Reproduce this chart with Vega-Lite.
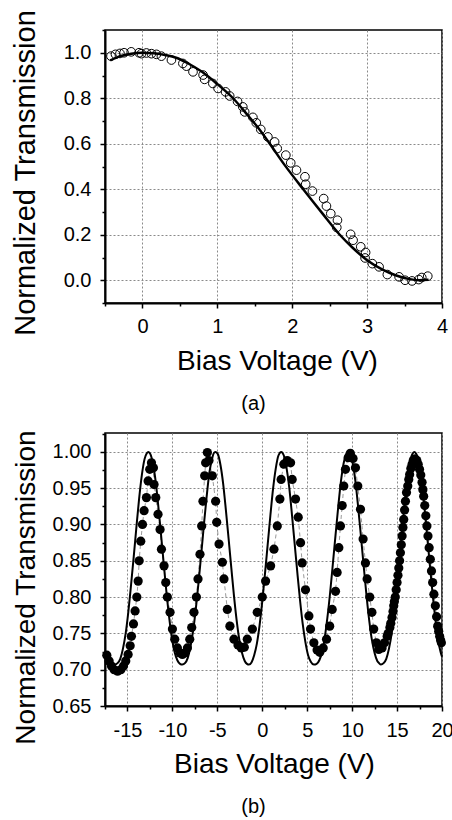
{
  "$schema": "https://vega.github.io/schema/vega-lite/v6.json",
  "background": "white",
  "padding": {"left": 10, "top": 8, "right": 0, "bottom": 0},
  "config": {
    "font": "Liberation Sans",
    "view": {"stroke": "black", "strokeWidth": 1.5},
    "axis": {
      "labelFont": "Liberation Sans", "titleFont": "Liberation Sans",
      "labelColor": "black", "titleColor": "black", "tickColor": "black", "domainColor": "black",
      "labelFontSize": 20, "titleFontWeight": "normal",
      "gridColor": "#8a8a8a", "gridDash": [2, 2], "gridWidth": 1,
      "domainWidth": 2, "tickWidth": 1.5, "labelFlush": false, "labelOverlap": false
    },
    "title": {"font": "Liberation Sans", "fontSize": 20, "fontWeight": "normal", "color": "black"}
  },
  "datasets": {
    "a_pts": [
      {"v": -0.42, "t": 0.985}, {"v": -0.36, "t": 0.993}, {"v": -0.30, "t": 0.997}, {"v": -0.245, "t": 1.0},
      {"v": -0.15, "t": 1.004}, {"v": -0.045, "t": 1.0}, {"v": -0.013, "t": 0.996}, {"v": 0.053, "t": 0.999},
      {"v": 0.12, "t": 0.996}, {"v": 0.187, "t": 0.993}, {"v": 0.253, "t": 0.985}, {"v": 0.387, "t": 0.968},
      {"v": 0.54, "t": 0.953}, {"v": 0.587, "t": 0.941}, {"v": 0.675, "t": 0.916}, {"v": 0.81, "t": 0.902},
      {"v": 0.83, "t": 0.883}, {"v": 0.94, "t": 0.865}, {"v": 1.01, "t": 0.843}, {"v": 1.11, "t": 0.828},
      {"v": 1.165, "t": 0.81}, {"v": 1.27, "t": 0.786}, {"v": 1.34, "t": 0.762}, {"v": 1.365, "t": 0.74},
      {"v": 1.475, "t": 0.716}, {"v": 1.52, "t": 0.692}, {"v": 1.58, "t": 0.663}, {"v": 1.675, "t": 0.63},
      {"v": 1.765, "t": 0.608}, {"v": 1.8, "t": 0.579}, {"v": 1.915, "t": 0.55}, {"v": 1.98, "t": 0.516},
      {"v": 2.057, "t": 0.484}, {"v": 2.17, "t": 0.455}, {"v": 2.18, "t": 0.422}, {"v": 2.27, "t": 0.392},
      {"v": 2.42, "t": 0.359}, {"v": 2.457, "t": 0.326}, {"v": 2.515, "t": 0.293}, {"v": 2.604, "t": 0.264},
      {"v": 2.595, "t": 0.232}, {"v": 2.78, "t": 0.202}, {"v": 2.813, "t": 0.176}, {"v": 2.915, "t": 0.147},
      {"v": 2.98, "t": 0.122}, {"v": 2.973, "t": 0.098}, {"v": 3.07, "t": 0.073}, {"v": 3.16, "t": 0.059},
      {"v": 3.27, "t": 0.025}, {"v": 3.427, "t": 0.015}, {"v": 3.507, "t": 0.0}, {"v": 3.6, "t": -0.003},
      {"v": 3.69, "t": 0.003}, {"v": 3.73, "t": 0.012}, {"v": 3.81, "t": 0.018}
    ],
    "a_fit": [
      {"v": -0.43, "t": 0.966}, {"v": -0.3, "t": 0.985}, {"v": -0.15, "t": 0.996}, {"v": 0.0, "t": 1.0},
      {"v": 0.15, "t": 0.998}, {"v": 0.3, "t": 0.99}, {"v": 0.45, "t": 0.978}, {"v": 0.6, "t": 0.955},
      {"v": 0.8, "t": 0.915}, {"v": 1.0, "t": 0.862}, {"v": 1.21, "t": 0.8}, {"v": 1.4, "t": 0.728},
      {"v": 1.55, "t": 0.668}, {"v": 1.7, "t": 0.6}, {"v": 1.9, "t": 0.506}, {"v": 2.147, "t": 0.4},
      {"v": 2.4, "t": 0.295}, {"v": 2.635, "t": 0.2}, {"v": 2.8, "t": 0.145}, {"v": 3.0, "t": 0.088},
      {"v": 3.2, "t": 0.048}, {"v": 3.38, "t": 0.022}, {"v": 3.55, "t": 0.006}, {"v": 3.69, "t": 0.0},
      {"v": 3.82, "t": 0.002}
    ],
    "b_pts": [
      {"v": -17.3, "t": 0.72}, {"v": -17.04, "t": 0.712}, {"v": -16.78, "t": 0.705}, {"v": -16.48, "t": 0.7},
      {"v": -16.1, "t": 0.698}, {"v": -15.74, "t": 0.7}, {"v": -15.44, "t": 0.705}, {"v": -15.19, "t": 0.712},
      {"v": -14.93, "t": 0.721}, {"v": -14.7, "t": 0.733}, {"v": -14.56, "t": 0.746}, {"v": -14.33, "t": 0.763},
      {"v": -14.15, "t": 0.781}, {"v": -13.96, "t": 0.8}, {"v": -13.81, "t": 0.822}, {"v": -13.7, "t": 0.85},
      {"v": -13.52, "t": 0.877}, {"v": -13.33, "t": 0.9}, {"v": -13.15, "t": 0.919}, {"v": -12.89, "t": 0.937},
      {"v": -12.7, "t": 0.96}, {"v": -12.52, "t": 0.976}, {"v": -12.33, "t": 0.985}, {"v": -12.11, "t": 0.978},
      {"v": -12.04, "t": 0.955}, {"v": -11.85, "t": 0.937}, {"v": -11.6, "t": 0.914}, {"v": -11.37, "t": 0.893},
      {"v": -11.22, "t": 0.866}, {"v": -10.93, "t": 0.843}, {"v": -10.74, "t": 0.82}, {"v": -10.56, "t": 0.8},
      {"v": -10.26, "t": 0.779}, {"v": -10.0, "t": 0.756}, {"v": -9.74, "t": 0.742}, {"v": -9.44, "t": 0.73},
      {"v": -9.15, "t": 0.723}, {"v": -8.89, "t": 0.721}, {"v": -8.63, "t": 0.723}, {"v": -8.33, "t": 0.73},
      {"v": -8.07, "t": 0.742}, {"v": -7.85, "t": 0.758}, {"v": -7.6, "t": 0.779}, {"v": -7.33, "t": 0.8},
      {"v": -7.15, "t": 0.825}, {"v": -6.93, "t": 0.859}, {"v": -6.74, "t": 0.898}, {"v": -6.6, "t": 0.932},
      {"v": -6.41, "t": 0.967}, {"v": -6.3, "t": 0.985}, {"v": -6.11, "t": 0.999}, {"v": -5.93, "t": 0.988},
      {"v": -5.56, "t": 0.967}, {"v": -5.19, "t": 0.932}, {"v": -5.07, "t": 0.903}, {"v": -4.81, "t": 0.873},
      {"v": -4.44, "t": 0.848}, {"v": -4.26, "t": 0.825}, {"v": -3.89, "t": 0.783}, {"v": -3.6, "t": 0.76},
      {"v": -3.15, "t": 0.742}, {"v": -2.7, "t": 0.734}, {"v": -2.33, "t": 0.73}, {"v": -2.0, "t": 0.731},
      {"v": -1.67, "t": 0.742}, {"v": -1.1, "t": 0.756}, {"v": -0.56, "t": 0.779}, {"v": 0.0, "t": 0.8},
      {"v": 0.37, "t": 0.822}, {"v": 0.93, "t": 0.843}, {"v": 1.3, "t": 0.866}, {"v": 1.67, "t": 0.898},
      {"v": 1.96, "t": 0.935}, {"v": 2.1, "t": 0.962}, {"v": 2.4, "t": 0.983}, {"v": 2.78, "t": 0.988},
      {"v": 3.15, "t": 0.985}, {"v": 3.33, "t": 0.962}, {"v": 3.7, "t": 0.935}, {"v": 4.0, "t": 0.91},
      {"v": 4.26, "t": 0.875}, {"v": 4.44, "t": 0.847}, {"v": 4.81, "t": 0.81}, {"v": 5.19, "t": 0.774},
      {"v": 5.37, "t": 0.756}, {"v": 5.74, "t": 0.737}, {"v": 6.1, "t": 0.727}, {"v": 6.4, "t": 0.724},
      {"v": 6.78, "t": 0.73}, {"v": 7.15, "t": 0.742}, {"v": 7.5, "t": 0.76}, {"v": 7.78, "t": 0.783},
      {"v": 8.15, "t": 0.808}, {"v": 8.33, "t": 0.834}, {"v": 8.52, "t": 0.868}, {"v": 8.7, "t": 0.898},
      {"v": 8.89, "t": 0.926}, {"v": 9.07, "t": 0.953}, {"v": 9.26, "t": 0.976}, {"v": 9.56, "t": 0.992},
      {"v": 9.8, "t": 0.998}, {"v": 10.1, "t": 0.991}, {"v": 10.37, "t": 0.978}, {"v": 10.63, "t": 0.953},
      {"v": 10.93, "t": 0.921}, {"v": 11.22, "t": 0.88}, {"v": 11.48, "t": 0.847}, {"v": 11.67, "t": 0.825},
      {"v": 11.96, "t": 0.8}, {"v": 12.2, "t": 0.779}, {"v": 12.4, "t": 0.756}, {"v": 12.7, "t": 0.737},
      {"v": 12.96, "t": 0.728}, {"v": 13.33, "t": 0.73}, {"v": 13.6, "t": 0.737}, {"v": 13.9, "t": 0.746},
      {"v": 14.0, "t": 0.75}, {"v": 14.2, "t": 0.758}, {"v": 14.3, "t": 0.764}, {"v": 14.44, "t": 0.772},
      {"v": 14.55, "t": 0.78}, {"v": 14.63, "t": 0.788}, {"v": 14.7, "t": 0.794}, {"v": 14.8, "t": 0.8},
      {"v": 14.9, "t": 0.81}, {"v": 15.0, "t": 0.82}, {"v": 15.1, "t": 0.83}, {"v": 15.19, "t": 0.84},
      {"v": 15.28, "t": 0.85}, {"v": 15.37, "t": 0.861}, {"v": 15.47, "t": 0.872}, {"v": 15.56, "t": 0.884},
      {"v": 15.65, "t": 0.896}, {"v": 15.74, "t": 0.907}, {"v": 15.84, "t": 0.92}, {"v": 15.93, "t": 0.932},
      {"v": 16.05, "t": 0.944}, {"v": 16.19, "t": 0.953}, {"v": 16.3, "t": 0.962}, {"v": 16.4, "t": 0.969},
      {"v": 16.53, "t": 0.977}, {"v": 16.67, "t": 0.983}, {"v": 16.8, "t": 0.988}, {"v": 16.93, "t": 0.99},
      {"v": 17.06, "t": 0.99}, {"v": 17.2, "t": 0.988}, {"v": 17.35, "t": 0.983}, {"v": 17.5, "t": 0.976},
      {"v": 17.64, "t": 0.968}, {"v": 17.78, "t": 0.958}, {"v": 17.87, "t": 0.948}, {"v": 17.96, "t": 0.939},
      {"v": 18.08, "t": 0.926}, {"v": 18.2, "t": 0.912}, {"v": 18.32, "t": 0.898}, {"v": 18.44, "t": 0.884},
      {"v": 18.57, "t": 0.868}, {"v": 18.7, "t": 0.852}, {"v": 18.83, "t": 0.836}, {"v": 18.96, "t": 0.82},
      {"v": 19.1, "t": 0.804}, {"v": 19.26, "t": 0.788}, {"v": 19.4, "t": 0.773}, {"v": 19.52, "t": 0.76},
      {"v": 19.63, "t": 0.753}, {"v": 19.74, "t": 0.746}, {"v": 19.84, "t": 0.741}, {"v": 19.93, "t": 0.737}
    ],
    "b_fit": [
      {"v": -17.2, "t": 0.722}, {"v": -16.9, "t": 0.713}, {"v": -16.4, "t": 0.707}, {"v": -16.1, "t": 0.709},
      {"v": -15.8, "t": 0.715}, {"v": -15.5, "t": 0.729}, {"v": -15.2, "t": 0.75}, {"v": -14.9, "t": 0.78},
      {"v": -14.6, "t": 0.817}, {"v": -14.3, "t": 0.856}, {"v": -14.0, "t": 0.897}, {"v": -13.7, "t": 0.936},
      {"v": -13.4, "t": 0.968}, {"v": -13.1, "t": 0.99}, {"v": -12.85, "t": 0.998}, {"v": -12.67, "t": 1.0},
      {"v": -12.45, "t": 0.997}, {"v": -12.15, "t": 0.983}, {"v": -11.85, "t": 0.958}, {"v": -11.55, "t": 0.923},
      {"v": -11.25, "t": 0.884}, {"v": -10.95, "t": 0.844}, {"v": -10.65, "t": 0.805}, {"v": -10.35, "t": 0.771},
      {"v": -10.05, "t": 0.743}, {"v": -9.75, "t": 0.724}, {"v": -9.45, "t": 0.713}, {"v": -9.15, "t": 0.708},
      {"v": -8.9, "t": 0.707}, {"v": -8.6, "t": 0.709}, {"v": -8.3, "t": 0.716}, {"v": -8.0, "t": 0.731},
      {"v": -7.7, "t": 0.753}, {"v": -7.4, "t": 0.783}, {"v": -7.1, "t": 0.819}, {"v": -6.8, "t": 0.858},
      {"v": -6.5, "t": 0.899}, {"v": -6.2, "t": 0.937}, {"v": -5.9, "t": 0.97}, {"v": -5.6, "t": 0.99},
      {"v": -5.35, "t": 0.999}, {"v": -5.19, "t": 1.0}, {"v": -4.95, "t": 0.997}, {"v": -4.65, "t": 0.982},
      {"v": -4.35, "t": 0.956}, {"v": -4.05, "t": 0.92}, {"v": -3.75, "t": 0.881}, {"v": -3.45, "t": 0.841},
      {"v": -3.15, "t": 0.802}, {"v": -2.85, "t": 0.768}, {"v": -2.55, "t": 0.741}, {"v": -2.25, "t": 0.723},
      {"v": -1.95, "t": 0.712}, {"v": -1.7, "t": 0.708}, {"v": -1.48, "t": 0.707}, {"v": -1.2, "t": 0.71},
      {"v": -0.9, "t": 0.72}, {"v": -0.6, "t": 0.736}, {"v": -0.3, "t": 0.761}, {"v": 0.0, "t": 0.794},
      {"v": 0.3, "t": 0.832}, {"v": 0.6, "t": 0.872}, {"v": 0.9, "t": 0.912}, {"v": 1.2, "t": 0.949},
      {"v": 1.5, "t": 0.977}, {"v": 1.8, "t": 0.995}, {"v": 2.11, "t": 1.0}, {"v": 2.4, "t": 0.995},
      {"v": 2.7, "t": 0.978}, {"v": 3.0, "t": 0.951}, {"v": 3.3, "t": 0.914}, {"v": 3.6, "t": 0.874},
      {"v": 3.9, "t": 0.834}, {"v": 4.2, "t": 0.796}, {"v": 4.5, "t": 0.763}, {"v": 4.8, "t": 0.738},
      {"v": 5.1, "t": 0.72}, {"v": 5.4, "t": 0.711}, {"v": 5.75, "t": 0.707}, {"v": 6.05, "t": 0.708},
      {"v": 6.35, "t": 0.713}, {"v": 6.65, "t": 0.724}, {"v": 6.95, "t": 0.744}, {"v": 7.25, "t": 0.772},
      {"v": 7.55, "t": 0.806}, {"v": 7.85, "t": 0.845}, {"v": 8.15, "t": 0.885}, {"v": 8.45, "t": 0.924},
      {"v": 8.75, "t": 0.959}, {"v": 9.05, "t": 0.984}, {"v": 9.3, "t": 0.996}, {"v": 9.56, "t": 1.0},
      {"v": 9.8, "t": 0.997}, {"v": 10.1, "t": 0.982}, {"v": 10.4, "t": 0.956}, {"v": 10.7, "t": 0.92},
      {"v": 11.0, "t": 0.881}, {"v": 11.3, "t": 0.841}, {"v": 11.6, "t": 0.802}, {"v": 11.9, "t": 0.768},
      {"v": 12.2, "t": 0.741}, {"v": 12.5, "t": 0.723}, {"v": 12.8, "t": 0.712}, {"v": 13.0, "t": 0.709},
      {"v": 13.2, "t": 0.707}, {"v": 13.5, "t": 0.709}, {"v": 13.8, "t": 0.715}, {"v": 14.1, "t": 0.729},
      {"v": 14.4, "t": 0.75}, {"v": 14.7, "t": 0.78}, {"v": 15.0, "t": 0.817}, {"v": 15.3, "t": 0.856},
      {"v": 15.6, "t": 0.897}, {"v": 15.9, "t": 0.936}, {"v": 16.2, "t": 0.968}, {"v": 16.5, "t": 0.99},
      {"v": 16.75, "t": 0.998}, {"v": 16.93, "t": 1.0}, {"v": 17.15, "t": 0.997}, {"v": 17.45, "t": 0.983},
      {"v": 17.75, "t": 0.958}, {"v": 18.05, "t": 0.923}, {"v": 18.35, "t": 0.884}, {"v": 18.65, "t": 0.844},
      {"v": 18.95, "t": 0.805}, {"v": 19.25, "t": 0.771}, {"v": 19.55, "t": 0.743}, {"v": 19.85, "t": 0.724},
      {"v": 20.0, "t": 0.718}
    ]
  },
  "spacing": 130,
  "bounds": "flush",
  "vconcat": [
    {
      "width": 337,
      "height": 273,
      "title": {"text": "(a)", "orient": "bottom", "anchor": "middle", "dx": -20, "offset": 18},
      "layer": [
        {
          "data": {"name": "a_fit"},
          "mark": {"type": "line", "color": "black", "strokeWidth": 2.5, "interpolate": "monotone"},
          "encoding": {
            "x": {"field": "v", "type": "quantitative",
              "scale": {"domain": [-0.5, 4], "nice": false, "zero": false},
              "axis": {"values": [0, 1, 2, 3, 4], "format": "d", "title": "Bias Voltage (V)", "titleFontSize": 28,
                "tickSize": 5, "labelPadding": 24, "labelBaseline": "alphabetic",
                "titleX": 172, "titleY": 66.7, "titleBaseline": "alphabetic", "titleAnchor": null, "grid": true}},
            "y": {"field": "t", "type": "quantitative",
              "scale": {"domain": [-0.1, 1.1], "nice": false, "zero": false},
              "axis": {"values": [0, 0.2, 0.4, 0.6, 0.8, 1.0], "format": ".1f", "title": "Normalized Transmission",
                "titleFontSize": 29, "tickSize": 5, "labelPadding": 9,
                "titleX": -71, "titleY": 142.5, "titleBaseline": "alphabetic", "grid": true}}
          }
        },
        {
          "data": {"name": "a_pts"},
          "mark": {"type": "point", "shape": "circle", "filled": false, "stroke": "black", "strokeWidth": 1, "size": 75, "opacity": 1},
          "encoding": {
            "x": {"field": "v", "type": "quantitative",
              "axis": {"orient": "bottom", "values": [-0.5, 0.5, 1.5, 2.5, 3.5], "labels": false, "tickSize": 3, "domain": false, "grid": false, "title": null}},
            "y": {"field": "t", "type": "quantitative",
              "axis": {"orient": "left", "values": [-0.1, 0.1, 0.3, 0.5, 0.7, 0.9, 1.1], "labels": false, "tickSize": 3, "domain": false, "grid": false, "title": null}}
          }
        }
      ],
      "resolve": {"axis": {"x": "independent", "y": "independent"}}
    },
    {
      "width": 337,
      "height": 273,
      "title": {"text": "(b)", "orient": "bottom", "anchor": "middle", "dx": -20, "offset": 18},
      "layer": [
        {
          "data": {"name": "b_pts"},
          "mark": {"type": "line", "color": "#9a9a9a", "strokeWidth": 1, "strokeDash": [4, 3]},
          "encoding": {
            "x": {"field": "v", "type": "quantitative",
              "scale": {"domain": [-17.5, 20], "nice": false, "zero": false},
              "axis": {"values": [-15, -10, -5, 0, 5, 10, 15, 20], "labelExpr": "'' + datum.value", "title": "Bias Voltage (V)", "titleFontSize": 28,
                "tickSize": 5, "labelPadding": 25, "labelBaseline": "alphabetic",
                "titleX": 169, "titleY": 66.7, "titleBaseline": "alphabetic", "grid": true}},
            "y": {"field": "t", "type": "quantitative",
              "scale": {"domain": [0.65, 1.026], "nice": false, "zero": false},
              "axis": {"values": [0.65, 0.7, 0.75, 0.8, 0.85, 0.9, 0.95, 1.0], "format": ".2f", "title": "Normalized Transmission",
                "titleFontSize": 28, "tickSize": 5, "labelPadding": 9,
                "titleX": -71, "titleY": 154, "titleBaseline": "alphabetic", "grid": true}}
          }
        },
        {
          "data": {"name": "b_fit"},
          "mark": {"type": "line", "color": "black", "strokeWidth": 2, "interpolate": "monotone"},
          "encoding": {
            "x": {"field": "v", "type": "quantitative",
              "axis": {"orient": "bottom", "values": [-17.5, -12.5, -7.5, -2.5, 2.5, 7.5, 12.5, 17.5], "labels": false, "tickSize": 3, "domain": false, "grid": false, "title": null}},
            "y": {"field": "t", "type": "quantitative",
              "axis": {"orient": "left", "values": [0.675, 0.725, 0.775, 0.825, 0.875, 0.925, 0.975, 1.025], "labels": false, "tickSize": 3, "domain": false, "grid": false, "title": null}}
          }
        },
        {
          "data": {"name": "b_pts"},
          "mark": {"type": "circle", "color": "black", "size": 85, "opacity": 1},
          "encoding": {
            "x": {"field": "v", "type": "quantitative", "axis": null},
            "y": {"field": "t", "type": "quantitative", "axis": null}
          }
        }
      ],
      "resolve": {"axis": {"x": "independent", "y": "independent"}}
    }
  ]
}
